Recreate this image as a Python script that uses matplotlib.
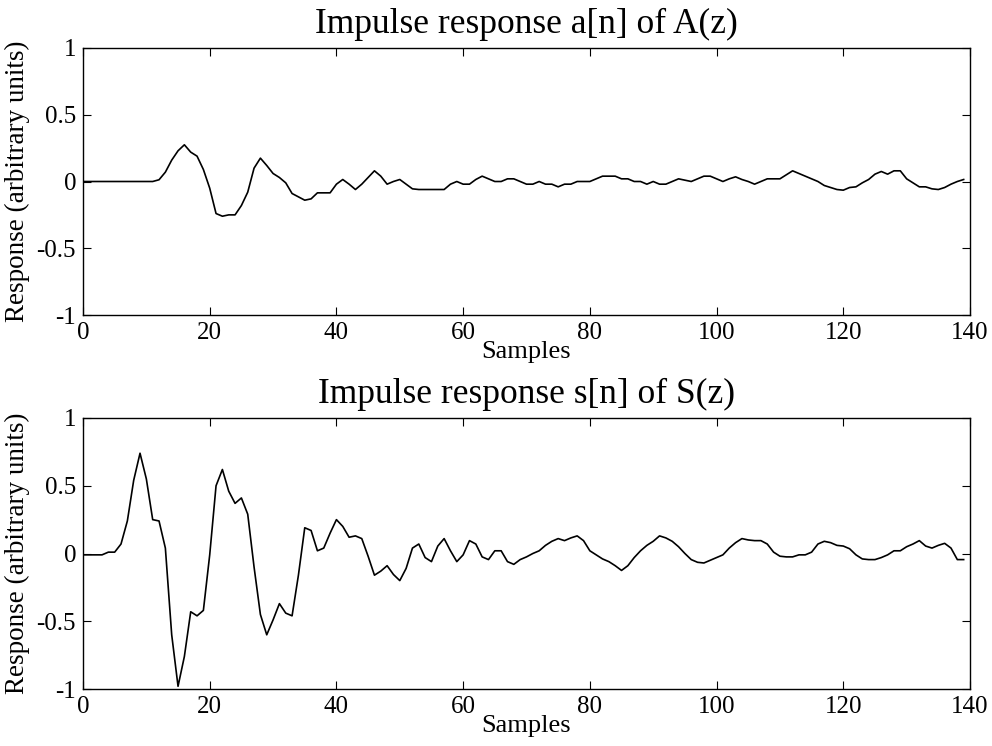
import numpy as np
import matplotlib
matplotlib.use('Agg')
import matplotlib.pyplot as plt

# impulse response a[n] of A(z), samples 0..139
a_n = [0]*12 + [
    0.013, 0.07, 0.16, 0.23, 0.275, 0.22, 0.19, 0.09, -0.05, -0.24,
    -0.26, -0.25, -0.25, -0.18, -0.08, 0.1, 0.175, 0.12, 0.06, 0.03,
    -0.01, -0.09, -0.115, -0.14, -0.13, -0.085, -0.085, -0.085, -0.02, 0.015,
    -0.02, -0.06, -0.02, 0.03, 0.08, 0.04, -0.02, 0.0, 0.015, -0.02,
    -0.055, -0.06, -0.06, -0.06, -0.06, -0.06, -0.02, 0.0, -0.02, -0.02,
    0.015, 0.04, 0.02, 0.0, 0.0, 0.02, 0.02, 0.0, -0.02, -0.02,
    0.0, -0.02, -0.02, -0.04, -0.02, -0.02, 0.0, 0.0, 0.0, 0.02,
    0.04, 0.04, 0.04, 0.02, 0.02, 0.0, 0.0, -0.02, 0.0, -0.02,
    -0.02, 0.0, 0.02, 0.01, 0.0, 0.02, 0.04, 0.04, 0.02, 0.0,
    0.02, 0.035, 0.015, 0.0, -0.02, 0.0, 0.02, 0.02, 0.02, 0.05,
    0.08, 0.06, 0.04, 0.02, 0.0, -0.03, -0.045, -0.06, -0.065, -0.045,
    -0.04, -0.01, 0.015, 0.055, 0.075, 0.055, 0.08, 0.08, 0.02, -0.01,
    -0.04, -0.04, -0.055, -0.06, -0.045, -0.02, 0.0, 0.015]

# impulse response s[n] of S(z)
s_n = [
    -0.01, -0.01, -0.01, -0.01, 0.01, 0.01, 0.07, 0.24, 0.54, 0.74,
    0.55, 0.25, 0.24, 0.04, -0.6, -0.98, -0.76, -0.43, -0.46, -0.42,
    -0.01, 0.5, 0.62, 0.46, 0.37, 0.41, 0.29, -0.1, -0.45, -0.6,
    -0.49, -0.37, -0.44, -0.46, -0.16, 0.19, 0.17, 0.02, 0.04, 0.15,
    0.25, 0.2, 0.12, 0.13, 0.11, -0.02, -0.16, -0.13, -0.09, -0.155,
    -0.2, -0.11, 0.04, 0.07, -0.03, -0.06, 0.055, 0.11, 0.02, -0.06,
    -0.01, 0.095, 0.07, -0.025, -0.045, 0.02, 0.02, -0.06, -0.08, -0.045,
    -0.025, 0.0, 0.02, 0.06, 0.09, 0.11, 0.095, 0.115, 0.13, 0.095,
    0.02, -0.01, -0.04, -0.06, -0.09, -0.125, -0.09, -0.03, 0.02, 0.06,
    0.09, 0.13, 0.115, 0.09, 0.05, 0.0, -0.045, -0.065, -0.07, -0.05,
    -0.03, -0.01, 0.04, 0.08, 0.11, 0.1, 0.095, 0.095, 0.07, 0.01,
    -0.02, -0.025, -0.025, -0.01, -0.01, 0.01, 0.07, 0.09, 0.08, 0.06,
    0.055, 0.035, -0.01, -0.04, -0.045, -0.045, -0.03, -0.01, 0.02, 0.02,
    0.05, 0.07, 0.095, 0.055, 0.04, 0.06, 0.075, 0.04, -0.045, -0.045]

titles = ['Impulse response a[n] of A(z)', 'Impulse response s[n] of S(z)']
xticks = [0, 20, 40, 60, 80, 100, 120, 140]
yticks = [-1, -0.5, 0, 0.5, 1]
ytick_labels = ['-1', '-0.5', '0', '0.5', '1']

plt.rcParams['font.family'] = ['Liberation Serif', 'DejaVu Serif']

fig = plt.figure(figsize=(9.92, 7.46), dpi=100)
W, H = 992, 746
boxes = [(48, 315), (418, 689)]
for k, (data, title) in enumerate(zip([a_n, s_n], titles)):
    top, bot = boxes[k]
    ax = fig.add_axes([83/W, 1-bot/H, 887/W, (bot-top)/H])
    ax.plot(np.arange(len(data)), data, color='black', lw=1.2)
    ax.set_xlim(0, 140)
    ax.set_ylim(-1, 1)
    ax.set_xticks(xticks)
    ax.set_yticks(yticks)
    ax.set_yticklabels(ytick_labels)
    ax.tick_params(direction='in', top=True, right=True, labelsize=18,
                   length=6, width=0.8, pad=5)
    ax.set_title(title, fontsize=25.5, pad=11)
    ax.set_xlabel('Samples', fontsize=19, labelpad=-2)
    ax.set_ylabel('Response (arbitrary units)', fontsize=19.5, labelpad=5)
    for sp in ax.spines.values():
        sp.set_linewidth(1.0)

fig.savefig('out.png', dpi=100)
